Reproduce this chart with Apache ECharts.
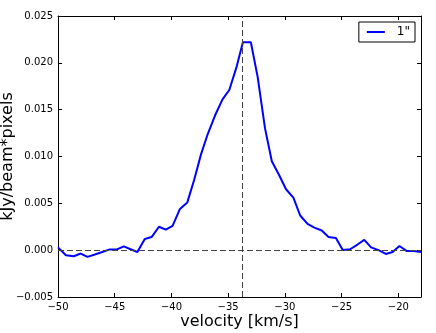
<!DOCTYPE html>
<html>
<head>
<meta charset="utf-8">
<script src="https://cdn.jsdelivr.net/npm/echarts@6/dist/echarts.min.js"></script>
<style>
html, body { margin: 0; padding: 0; background: #fff; }
#spectrum { width: 436px; height: 333px; }
</style>
</head>
<body>
<div id="spectrum"></div>
<script>
// velocity channels (km/s) and flux
var velocities = [-50.0, -49.3, -48.6, -48.0, -47.4, -46.75, -46.1, -45.5, -44.85, -44.2,
	-43.6, -43.0, -42.35, -41.75, -41.1, -40.5, -39.9, -39.25, -38.6, -38.0,
	-37.4, -36.8, -36.15, -35.5, -34.9, -34.25, -33.7, -33.0, -32.4, -31.75,
	-31.15, -30.5, -29.9, -29.25, -28.65, -28.0, -27.4, -26.75, -26.15, -25.5,
	-24.9, -24.25, -23.6, -23.0, -22.4, -21.75, -21.1, -20.5, -19.9, -19.25,
	-18.65, -18.0];
var flux = [0.0003, -0.00055, -0.00065, -0.00036, -0.00072, -0.00047, -0.0002, 0.00006, 0.00006, 0.0004,
	0.0001, -0.0002, 0.0012, 0.0014, 0.0025, 0.0022, 0.0026, 0.0044, 0.0051, 0.0075,
	0.0102, 0.0124, 0.0144, 0.0161, 0.0171, 0.0196, 0.0222, 0.0222, 0.0185, 0.0130,
	0.0095, 0.0080, 0.0065, 0.0056, 0.0037, 0.0028, 0.0024, 0.0021, 0.0014, 0.0013,
	0.00002, 0.0001, 0.0006, 0.0011, 0.0003, 0.0, -0.0004, -0.0002, 0.00045, -0.0001,
	-0.0001, -0.0002];
var peakVelocity = -33.8;
var xRange = [-50, -18], xStep = 5;
var yRange = [-0.005, 0.025], yStep = 0.005;
var seriesName = '1"';

function minus(s) {
	return String(s).replace('-', '\u2212');
}

function initSpectrum() {
	var points = [];
	for (var i = 0; i < velocities.length; i++) {
		points.push([velocities[i], flux[i]]);
	}
	var font = 'DejaVu Sans';
	var tickIn = { show: true, inside: true, length: 4, lineStyle: { color: '#000' } };
	var frame = { show: true, onZero: false, lineStyle: { color: '#000', width: 1 } };

	var option = {
		animation: false,
		textStyle: { fontFamily: font },
		grid: { left: 58, right: 15, top: 16, bottom: 36, outerBoundsMode: 'none', containLabel: false },
		legend: {
			right: 21,
			top: 22,
			orient: 'vertical',
			data: [seriesName],
			icon: 'rect',
			itemWidth: 18,
			itemHeight: 2,
			borderColor: '#000',
			borderWidth: 1,
			borderRadius: 0,
			padding: [4, 5, 4, 8],
			textStyle: { fontFamily: font, fontSize: 12, color: '#000', padding: [0, 0, 0, 7] }
		},
		xAxis: [{
			type: 'value',
			min: xRange[0], max: xRange[1], interval: xStep,
			name: 'velocity [km/s]',
			nameLocation: 'middle',
			nameGap: 17,
			nameMoveOverlap: false,
			nameTextStyle: { fontFamily: font, fontSize: 16, color: '#000' },
			axisLine: frame,
			axisTick: tickIn,
			splitLine: { show: false },
			axisLabel: {
				fontFamily: font, fontSize: 10, color: '#000', margin: 5,
				showMaxLabel: false,
				formatter: function(v) { return minus(v); }
			}
		}, {
			type: 'value', position: 'top',
			min: xRange[0], max: xRange[1], interval: xStep,
			axisLine: frame, axisTick: tickIn,
			axisLabel: { show: false }, splitLine: { show: false }
		}],
		yAxis: [{
			type: 'value',
			min: yRange[0], max: yRange[1], interval: yStep,
			name: 'kJy/beam*pixels',
			nameLocation: 'middle',
			nameRotate: 90,
			nameGap: 42,
			nameMoveOverlap: false,
			nameTextStyle: { fontFamily: font, fontSize: 16, color: '#000' },
			axisLine: frame,
			axisTick: tickIn,
			splitLine: { show: false },
			axisLabel: {
				fontFamily: font, fontSize: 10, color: '#000', margin: 5,
				formatter: function(v) { return minus(v.toFixed(3)); }
			}
		}, {
			type: 'value', position: 'right',
			min: yRange[0], max: yRange[1], interval: yStep,
			axisLine: frame, axisTick: tickIn,
			axisLabel: { show: false }, splitLine: { show: false }
		}],
		series: [{
			name: seriesName,
			type: 'line',
			data: points,
			symbol: 'none',
			itemStyle: { color: '#0000ff' },
			lineStyle: { color: '#0000ff', width: 2 },
			markLine: {
				silent: true,
				symbol: 'none',
				label: { show: false },
				lineStyle: { color: '#444', width: 1, type: [6, 3] },
				data: [{ xAxis: peakVelocity }, { yAxis: 0 }]
			}
		}]
	};
	var chart = echarts.init(document.getElementById('spectrum'));
	chart.setOption(option);
}

initSpectrum();
</script>
</body>
</html>
